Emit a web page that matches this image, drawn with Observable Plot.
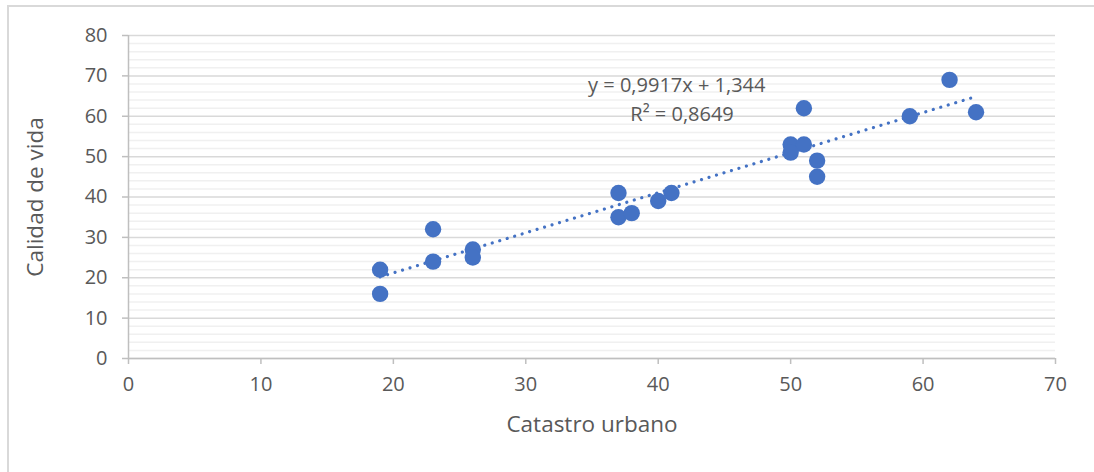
<!DOCTYPE html>
<html>
<head>
<meta charset="utf-8">
<script src="https://cdn.jsdelivr.net/npm/d3@7"></script>
<script src="https://cdn.jsdelivr.net/npm/@observablehq/plot@0.6"></script>
<style>
  html, body { margin: 0; padding: 0; background: #fff; }
  #wrap { position: relative; width: 1094px; height: 472px; overflow: hidden; }
  #frame { position: absolute; left: 7px; top: 5px; width: 1100px; height: 480px; border: 2px solid #d9d9d9; box-sizing: border-box; pointer-events: none; }
  #chart { position: absolute; left: 0; top: 0; }
  g[aria-label="x-axis label"] text, g[aria-label="y-axis label"] text { font-size: 22.5px; fill: #595959; }
</style>
</head>
<body>
<div id="wrap"><div id="chart"></div><div id="frame"></div></div>
<script>
// Data
const catastro = [19, 19, 23, 23, 26, 26, 37, 37, 38, 40, 41, 50, 50, 51, 51, 52, 52, 59, 62, 64];
const calidad  = [22, 16, 32, 24, 27, 25, 41, 35, 36, 39, 41, 53, 51, 62, 53, 49, 45, 60, 69, 61];
const xTicks = [0, 10, 20, 30, 40, 50, 60, 70];
const yTicks = [0, 10, 20, 30, 40, 50, 60, 70, 80];
const yMinor = [2, 4, 6, 8, 12, 14, 16, 18, 22, 24, 26, 28, 32, 34, 36, 38, 42, 44, 46, 48, 52, 54, 56, 58, 62, 64, 66, 68, 72, 74, 76, 78];
const equationText = ["y = 0,9917x + 1,344", "R² = 0,8649"];
const xTitle = "Catastro urbano";
const yTitle = "Calidad de vida";

const points = catastro.map((x, i) => ({x, y: calidad[i]}));

const chart = Plot.plot({
  width: 1094,
  height: 472,
  marginLeft: 128,
  marginRight: 39,
  marginTop: 35,
  marginBottom: 114,
  style: {fontFamily: "'Open Sans', sans-serif", fontSize: "20px", color: "#595959", background: "transparent"},
  x: {domain: [0, 70]},
  y: {domain: [0, 80]},
  marks: [
    Plot.gridY(yMinor, {stroke: "#f0f0f0", strokeOpacity: 1, strokeWidth: 1.5}),
    Plot.gridY(yTicks, {stroke: "#d9d9d9", strokeOpacity: 1, strokeWidth: 1.5}),
    Plot.ruleX([0], {stroke: "#bfbfbf", strokeWidth: 1.5}),
    Plot.axisY(yTicks, {tickSize: 6, tickPadding: 15, stroke: "#bfbfbf", strokeWidth: 1.5, fill: "#595959", fontSize: 20,
      label: yTitle, labelAnchor: "center", labelArrow: "none", labelOffset: 101}),
    Plot.axisX(xTicks, {tickSize: 6, tickPadding: 12, stroke: "#bfbfbf", strokeWidth: 1.5, fill: "#595959", fontSize: 20,
      label: xTitle, labelAnchor: "center", labelArrow: "none", labelOffset: 73}),
    Plot.ruleY([0], {stroke: "#bfbfbf", strokeWidth: 1.5}),
    Plot.linearRegressionY(points, {x: "x", y: "y", ci: 0, stroke: "#4472C4", strokeWidth: 3.2,
      strokeDasharray: "0.01 7.8", strokeLinecap: "round"}),
    Plot.dot(points, {x: "x", y: "y", r: 8.2, fill: "#4472C4", stroke: "none"}),
    Plot.text([equationText[0]], {x: 41.4, y: 67.5, text: d => d, fill: "#595959", fontSize: 20}),
    Plot.text([equationText[1]], {x: 41.8, y: 60.3, text: d => d, fill: "#595959", fontSize: 20})
  ]
});
document.getElementById("chart").appendChild(chart);
</script>
</body>
</html>
